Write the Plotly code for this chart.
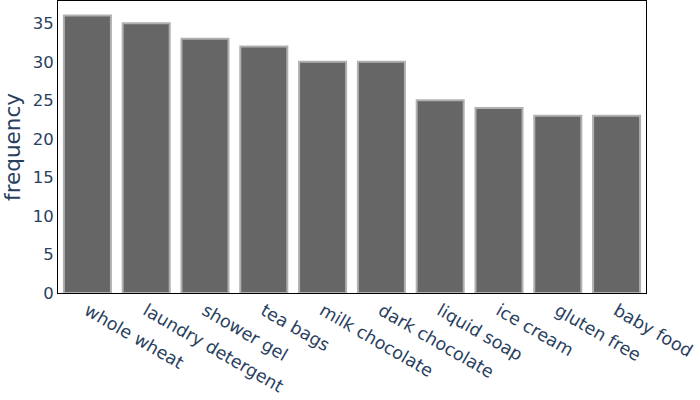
import plotly.graph_objects as go

categories = ["whole wheat", "laundry detergent", "shower gel", "tea bags", "milk chocolate",
              "dark chocolate", "liquid soap", "ice cream", "gluten free", "baby food"]
frequency = [36, 35, 33, 32, 30, 30, 25, 24, 23, 23]

fig = go.Figure(go.Bar(
    x=categories, y=frequency,
    marker=dict(color="#666666", line=dict(color="#b0b0b0", width=2)),
))
fig.update_layout(
    width=700, height=400,
    margin=dict(l=58, r=54, t=1, b=107),
    paper_bgcolor="white", plot_bgcolor="white",
    font=dict(family="Verdana, DejaVu Sans", color="#2a3f5f"),
    bargap=0.2,
    showlegend=False,
)
fig.update_xaxes(tickangle=30, showline=True, linecolor="black", linewidth=1, mirror=True,
                 showgrid=False, tickfont=dict(size=17.5), automargin=False)
fig.update_yaxes(title=dict(text="frequency", font=dict(size=21.5)), showline=True, linecolor="black",
                 linewidth=1, mirror=True, showgrid=False, zeroline=False, tickfont=dict(size=16.5),
                 dtick=5, automargin=False)
fig.write_html("out.html", config={"displayModeBar": False},
               post_script="document.body.style.margin='0';")
